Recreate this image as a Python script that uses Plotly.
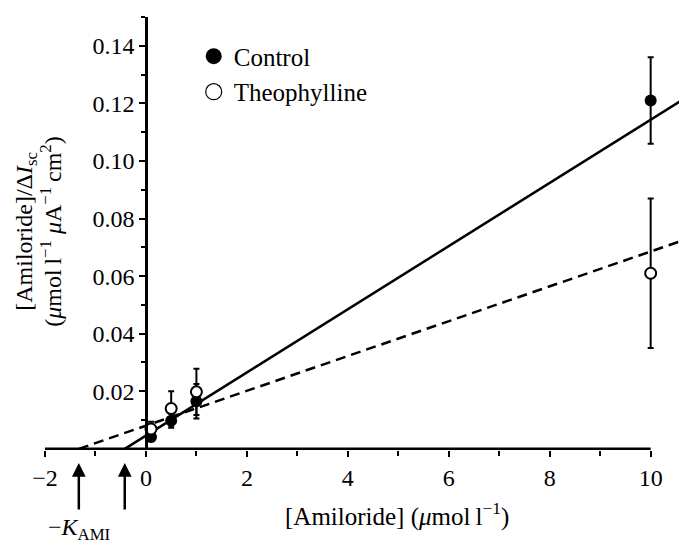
import plotly.graph_objects as go

# ---- data ----
conc = [0.1, 0.5, 1.0, 10.0]                      # [Amiloride] (umol/l)
control = [0.0041, 0.0098, 0.0165, 0.121]
control_err = [0.0015, 0.0025, 0.006, 0.015]
theo = [0.0069, 0.0140, 0.0198, 0.061]
theo_err = [0.0025, 0.006, 0.008, 0.026]

# regression lines: x-intercept (-K_AMI) and slope
control_fit_xint = -0.42
control_fit_slope = 0.01097
theo_fit_xint = -1.33
theo_fit_slope = 0.00605

x_ticks = [-2, 0, 2, 4, 6, 8, 10]
x_minor = [-1, 1, 3, 5, 7, 9]
y_ticks = [0.02, 0.04, 0.06, 0.08, 0.10, 0.12, 0.14]
y_minor = [0.01, 0.03, 0.05, 0.07, 0.09, 0.11, 0.13, 0.15]

XMIN, XMAX = -2, 10.7
YMIN, YMAX = -0.0004, 0.15

FONT = "Liberation Serif, Times New Roman, Times, serif"
FS = 24

def fit_line(xint, slope):
    xs = [xint, XMAX]
    ys = [slope * (x - xint) for x in xs]
    return xs, ys

fig = go.Figure()

cx, cy = fit_line(control_fit_xint, control_fit_slope)
tx, ty = fit_line(theo_fit_xint, theo_fit_slope)
fig.add_trace(go.Scatter(x=cx, y=cy, mode="lines", line=dict(color="black", width=2.5),
                         showlegend=False, hoverinfo="skip"))
fig.add_trace(go.Scatter(x=tx, y=ty, mode="lines",
                         line=dict(color="black", width=2.5, dash="10px,6px"),
                         showlegend=False, hoverinfo="skip"))

fig.add_trace(go.Scatter(
    x=conc, y=control, mode="markers", showlegend=False,
    marker=dict(symbol="circle", size=12, color="black"),
    error_y=dict(type="data", array=control_err, color="black", thickness=2, width=3)))
fig.add_trace(go.Scatter(
    x=conc, y=theo, mode="markers", showlegend=False,
    marker=dict(symbol="circle", size=11, color="white", line=dict(color="black", width=2)),
    error_y=dict(type="data", array=theo_err, color="black", thickness=2, width=3)))

# legend entries
fig.add_trace(go.Scatter(x=[None], y=[None], mode="markers", name="Control",
                         marker=dict(symbol="circle", size=18, color="black")))
fig.add_trace(go.Scatter(x=[None], y=[None], mode="markers", name="Theophylline",
                         marker=dict(symbol="circle", size=18, color="white",
                                     line=dict(color="black", width=1.2))))

# x-axis baseline from -2 to 10
fig.add_shape(type="line", xref="x", yref="y", x0=x_ticks[0], x1=x_ticks[-1], y0=0, y1=0,
              line=dict(color="black", width=2.5), layer="above")

annotations = []
# arrows marking -K_AMI
for xi in [theo_fit_xint, control_fit_xint]:
    annotations.append(dict(x=xi, xref="x", y=-0.030, yref="paper", ax=0, ay=48,
                            text="", showarrow=True, arrowhead=2, arrowsize=1.1,
                            arrowwidth=2.5, arrowcolor="black", standoff=0))
annotations.append(dict(x=theo_fit_xint, xref="x", y=-0.183, yref="paper",
                        text="\u2212<i>K</i><sub>AMI</sub>", showarrow=False,
                        xanchor="center", yanchor="middle",
                        font=dict(family=FONT, size=FS, color="black")))
annotations.append(dict(x=0.549, xref="paper", y=-0.150, yref="paper",
                        text="[Amiloride] (<i>\u03bc</i>mol\u2009l<sup>\u22121</sup>)",
                        showarrow=False, xanchor="center", yanchor="middle",
                        font=dict(family=FONT, size=FS + 1, color="black")))
annotations.append(dict(x=-0.029, xref="paper", y=0.505, yref="paper",
                        text="[Amiloride]/\u0394<i>I</i><sub>sc</sub>", textangle=-90,
                        showarrow=False, xanchor="center", yanchor="middle",
                        font=dict(family=FONT, size=FS, color="black")))
annotations.append(dict(x=0.010, xref="paper", y=0.505, yref="paper",
                        text="(<i>\u03bc</i>mol\u2009l<sup>\u22121</sup> <i>\u03bc</i>A<sup>\u22121</sup>\u2009cm<sup>2</sup>)",
                        textangle=-90, showarrow=False, xanchor="center", yanchor="middle",
                        font=dict(family=FONT, size=FS, color="black")))

# page has an 8px body margin, so the figure is sized/offset to compensate
fig.update_layout(
    width=679, height=533,
    margin=dict(l=37, r=1, t=9, b=91),
    paper_bgcolor="white", plot_bgcolor="white",
    font=dict(family=FONT, size=FS, color="black"),
    showlegend=True,
    legend=dict(x=0.232, y=0.962, xanchor="left", yanchor="top",
                bgcolor="rgba(0,0,0,0)", font=dict(family=FONT, size=FS + 1),
                itemsizing="trace", tracegroupgap=0),
    annotations=annotations,
    xaxis=dict(range=[XMIN, XMAX], showline=False, showgrid=False, zeroline=False,
               tickmode="array", tickvals=x_ticks, ticks="outside", ticklen=6,
               tickwidth=2, tickcolor="black",
               minor=dict(tickvals=x_minor, ticks="outside", ticklen=5, tickwidth=2,
                          tickcolor="black", showgrid=False),
               tickfont=dict(family=FONT, size=FS, color="black")),
    yaxis=dict(range=[YMIN, YMAX], anchor="free",
               position=(0 - XMIN) / (XMAX - XMIN),
               showline=True, linewidth=2.5, linecolor="black",
               showgrid=False, zeroline=False,
               tickmode="array", tickvals=y_ticks, tickformat=".2f",
               ticks="outside", ticklen=6, tickwidth=2, tickcolor="black",
               minor=dict(tickvals=y_minor, ticks="outside", ticklen=4, tickwidth=2,
                          tickcolor="black", showgrid=False),
               tickfont=dict(family=FONT, size=FS, color="black")),
)

fig.write_html("out.html")
